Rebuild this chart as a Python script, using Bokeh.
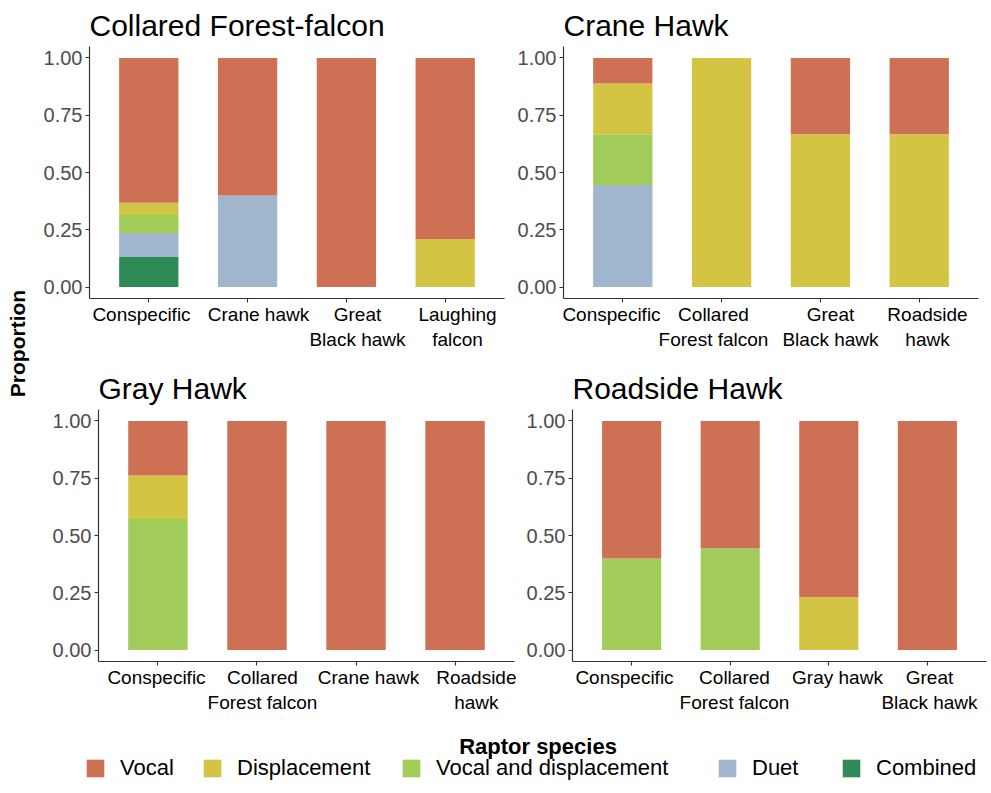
import math
from bokeh.plotting import figure
from bokeh.layouts import row, column
from bokeh.models import (Range1d, FixedTicker, Legend, LegendItem, LinearAxis,
                          Label, ColumnDataSource, NumeralTickFormatter)
from bokeh.embed import file_html
from bokeh.resources import INLINE

FONT = "Liberation Sans"

# ---- data (proportions, stacked bottom -> top: Combined, Duet, Vocal and displacement, Displacement, Vocal)
behaviours = ["Combined", "Duet", "Vocal and displacement", "Displacement", "Vocal"]
legend_order = ["Vocal", "Displacement", "Vocal and displacement", "Duet", "Combined"]
colors = {"Vocal": "#CE7054", "Displacement": "#D4C444", "Vocal and displacement": "#A1CC5A",
          "Duet": "#A0B6CC", "Combined": "#2E8B57"}

cff_title = "Collared Forest-falcon"
cff_species = ["Conspecific", "Crane hawk", "Great\nBlack hawk", "Laughing\nfalcon"]
cff_vocal = [0.632, 0.60, 1.0, 0.79]
cff_displacement = [0.053, 0.0, 0.0, 0.21]
cff_vocal_disp = [0.079, 0.0, 0.0, 0.0]
cff_duet = [0.105, 0.40, 0.0, 0.0]
cff_combined = [0.131, 0.0, 0.0, 0.0]

crane_title = "Crane Hawk"
crane_species = ["Conspecific", "Collared\nForest falcon", "Great\nBlack hawk", "Roadside\nhawk"]
crane_vocal = [0.111, 0.0, 0.333, 0.333]
crane_displacement = [0.222, 1.0, 0.667, 0.667]
crane_vocal_disp = [0.222, 0.0, 0.0, 0.0]
crane_duet = [0.445, 0.0, 0.0, 0.0]
crane_combined = [0.0, 0.0, 0.0, 0.0]

gray_title = "Gray Hawk"
gray_species = ["Conspecific", "Collared\nForest falcon", "Crane hawk", "Roadside\nhawk"]
gray_vocal = [0.238, 1.0, 1.0, 1.0]
gray_displacement = [0.19, 0.0, 0.0, 0.0]
gray_vocal_disp = [0.572, 0.0, 0.0, 0.0]
gray_duet = [0.0, 0.0, 0.0, 0.0]
gray_combined = [0.0, 0.0, 0.0, 0.0]

road_title = "Roadside Hawk"
road_species = ["Conspecific", "Collared\nForest falcon", "Gray hawk", "Great\nBlack hawk"]
road_vocal = [0.60, 0.556, 0.77, 1.0]
road_displacement = [0.0, 0.0, 0.23, 0.0]
road_vocal_disp = [0.40, 0.444, 0.0, 0.0]
road_duet = [0.0, 0.0, 0.0, 0.0]
road_combined = [0.0, 0.0, 0.0, 0.0]

y_ticks = [0.0, 0.25, 0.5, 0.75, 1.0]
y_label = "Proportion"
x_label = "Raptor species"

# styling: horizontal nudges (px) of the category labels, as in the original figure
cff_label_nudge = [-7, 11, 11, 12]
crane_label_nudge = [-11, -8, 10, 8]
gray_label_nudge = [-1, 6, 12, 22]
road_label_nudge = [-7, 4, 9, 2]

PAD = 0.1   # range padding (category units) on each side
BAR = 0.6   # bar width (category units)


def panel(title, cats, vocal, disp, vd, duet, comb, nudge, width, height, mbl, mbr, mbt, mbb):
    n = len(cats)
    frame_w = width - mbl - mbr
    unit = frame_w / (n + 2 * PAD)          # pixels per category slot
    centers = [(i + 0.5 + PAD) * unit for i in range(n)]
    src = ColumnDataSource(dict(x=centers, Vocal=vocal, Displacement=disp,
                                **{"Vocal and displacement": vd}, Duet=duet, Combined=comb))
    p = figure(x_range=Range1d(0, frame_w), y_range=Range1d(-0.05, 1.05), width=width, height=height,
               toolbar_location=None, output_backend="svg",
               min_border_left=mbl, min_border_right=mbr, min_border_top=mbt, min_border_bottom=mbb)
    p.vbar_stack(behaviours, x="x", width=BAR * unit, source=src,
                 color=[colors[b] for b in behaviours], line_color=None)
    p.title.text = title
    p.title.text_font = FONT
    p.title.text_font_size = "30px"
    p.title.text_font_style = "normal"
    p.title.text_color = "black"
    p.title.align = "left"
    p.title.standoff = 9
    p.grid.visible = False
    p.outline_line_color = None
    for ax in (p.xaxis[0], p.yaxis[0]):
        ax.axis_line_color = "#333333"
        ax.axis_line_width = 1.2
        ax.major_tick_line_color = "#333333"
        ax.major_tick_line_width = 1.1
        ax.major_tick_out = 4
        ax.major_tick_in = 0
        ax.minor_tick_line_color = None
        ax.major_label_text_font = FONT
    p.yaxis.ticker = FixedTicker(ticks=y_ticks)
    p.yaxis.formatter = NumeralTickFormatter(format="0.00")
    p.yaxis.major_label_text_font_size = "20px"
    p.yaxis.major_label_text_color = "#4D4D4D"
    p.yaxis.major_label_standoff = 3
    # first x axis: line and tick marks at the bar centres, no labels
    p.xaxis.ticker = FixedTicker(ticks=centers)
    p.xaxis.major_label_text_font_size = "0px"
    p.xaxis.major_label_text_color = None
    p.xaxis.major_label_standoff = 0
    # second x axis: the category names, nudged sideways as in the original figure
    pos = [int(round(c + d)) for c, d in zip(centers, nudge)]
    lab_axis = LinearAxis(ticker=FixedTicker(ticks=pos),
                          major_label_overrides={v: c for v, c in zip(pos, cats)},
                          axis_line_color=None, major_tick_line_color=None,
                          minor_tick_line_color=None, major_tick_out=0, major_tick_in=0,
                          major_label_standoff=1, major_label_text_font=FONT,
                          major_label_text_font_size="19px", major_label_text_color="black")
    p.add_layout(lab_axis, "below")
    return p


p1 = panel(cff_title, cff_species, cff_vocal, cff_displacement, cff_vocal_disp, cff_duet, cff_combined,
           cff_label_nudge, 472, 355, 51, 6, 46, 57)
p2 = panel(crane_title, crane_species, crane_vocal, crane_displacement, crane_vocal_disp, crane_duet,
           crane_combined, crane_label_nudge, 475, 355, 53, 7, 46, 57)
p3 = panel(gray_title, gray_species, gray_vocal, gray_displacement, gray_vocal_disp, gray_duet,
           gray_combined, gray_label_nudge, 478, 373, 60, 2, 54, 67)
p4 = panel(road_title, road_species, road_vocal, road_displacement, road_vocal_disp, road_duet,
           road_combined, road_label_nudge, 475, 373, 56, 5, 54, 67)

# shared y label
lb = figure(width=38, height=728, x_range=Range1d(0, 38), y_range=Range1d(0, 728),
            toolbar_location=None, output_backend="svg", min_border=0,
            x_axis_location=None, y_axis_location=None)
lb.grid.visible = False
lb.outline_line_color = None
lb.add_layout(Label(x=17, y=385, text=y_label, angle=math.pi / 2, text_align="center",
                    text_baseline="middle", text_font=FONT, text_font_size="21px",
                    text_font_style="bold", text_color="black"))

# shared x label + legend
lf = figure(width=991, height=65, x_range=Range1d(0, 991), y_range=Range1d(0, 65),
            toolbar_location=None, output_backend="svg", min_border=0,
            x_axis_location=None, y_axis_location=None)
lf.grid.visible = False
lf.outline_line_color = None
lf.add_layout(Label(x=537.5, y=47, text=x_label, text_align="center", text_baseline="alphabetic",
                    text_font=FONT, text_font_size="22px", text_font_style="bold", text_color="black"))
legend_x = [84, 201, 400, 716, 840]   # styling: swatch positions of the legend entries
for b, lx in zip(legend_order, legend_x):
    r = lf.vbar(x=[0], top=[0], bottom=[0], width=0, fill_color=colors[b], line_color=None)
    leg = Legend(items=[LegendItem(label=b, renderers=[r])], orientation="horizontal",
                 location=(lx, 12), glyph_width=22, glyph_height=22, label_height=22,
                 label_standoff=14, padding=0, margin=0, border_line_color=None,
                 background_fill_alpha=0, label_text_font=FONT, label_text_font_size="22px",
                 label_text_color="black")
    lf.add_layout(leg)

layout = column(row(lb, column(row(p1, p2), row(p3, p4))), lf)

open("out.html", "w").write(file_html(layout, INLINE))
